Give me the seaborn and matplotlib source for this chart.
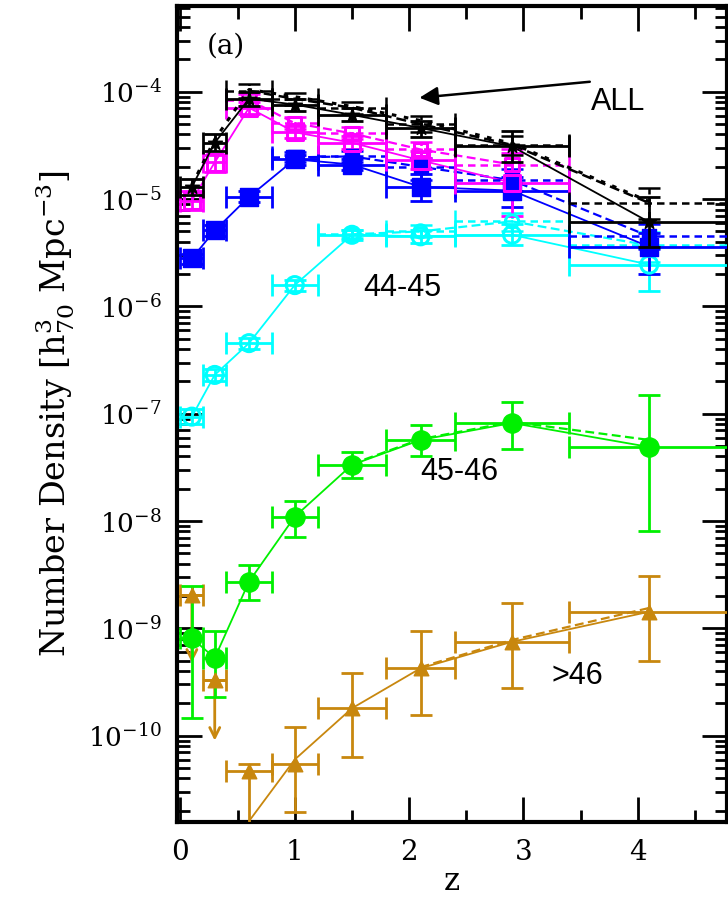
import numpy as np
import pandas as pd
import matplotlib
matplotlib.use("Agg")
import matplotlib.pyplot as plt
import seaborn as sns
from matplotlib.ticker import LogLocator, NullFormatter, MultipleLocator, FixedLocator

nan = np.nan
# ---------------- data ----------------
z_mid = [0.1, 0.3, 0.6, 1.0, 1.5, 2.1, 2.9, 4.1]
z_lo = [0.0, 0.2, 0.4, 0.8, 1.2, 1.8, 2.4, 3.4]
z_hi = [0.2, 0.4, 0.8, 1.2, 1.8, 2.4, 3.4, 4.8]
y_ticks = [1e-10, 1e-9, 1e-8, 1e-7, 1e-6, 1e-5, 1e-4]

# ALL (black)
all_val = [1.30e-5, 3.35e-5, 8.6e-5, 7.6e-5, 6.1e-5, 4.6e-5, 3.1e-5, 6.1e-6]
all_lo = [1.10e-5, 2.8e-5, 7.4e-5, 6.6e-5, 5.3e-5, 3.8e-5, 2.2e-5, 3.6e-6]
all_hi = [1.55e-5, 4.0e-5, 1.0e-4, 8.6e-5, 7.0e-5, 5.4e-5, 4.3e-5, 1.05e-5]
all_d = [nan, nan, 1.02e-4, 8.6e-5, 7.1e-5, 5.0e-5, 3.2e-5, 9.2e-6]
all_d_lo = [nan, nan, 8.8e-5, 7.6e-5, 6.2e-5, 4.2e-5, 2.6e-5, 6.5e-6]
all_d_hi = [nan, nan, 1.19e-4, 9.8e-5, 8.0e-5, 5.9e-5, 3.9e-5, 1.27e-5]
all_model = [1.35e-5, 3.6e-5, 1.05e-4, 9.0e-5, 7.3e-5, 5.4e-5, 3.3e-5, 9.5e-6]

# 43-44 (magenta)
mag_val = [9.7e-6, 2.2e-5, 7.1e-5, 4.2e-5, 3.35e-5, 2.3e-5, 1.42e-5, nan]
mag_lo = [7.9e-6, 1.8e-5, 6.2e-5, 3.7e-5, 2.9e-5, 1.9e-5, 6.9e-6, nan]
mag_hi = [1.2e-5, 2.6e-5, 8.0e-5, 4.8e-5, 3.9e-5, 2.8e-5, 2.7e-5, nan]
mag_d = [nan, nan, 8.4e-5, 5.1e-5, 4.1e-5, 2.9e-5, 2.1e-5, nan]
mag_d_lo = [nan, nan, 7.4e-5, 4.5e-5, 3.6e-5, 2.4e-5, 1.4e-5, nan]
mag_d_hi = [nan, nan, 9.5e-5, 5.8e-5, 4.7e-5, 3.4e-5, 2.9e-5, nan]

# 42-43 (blue)
blu_val = [2.8e-6, 5.1e-6, 1.05e-5, 2.35e-5, 2.1e-5, 1.3e-5, 1.2e-5, 3.6e-6]
blu_lo = [2.5e-6, 4.5e-6, 9.3e-6, 2.1e-5, 1.85e-5, 9.5e-6, 8.5e-6, 2.0e-6]
blu_hi = [3.1e-6, 5.7e-6, 1.18e-5, 2.6e-5, 2.35e-5, 1.7e-5, 1.6e-5, 4.8e-6]
blu_d = [nan, nan, nan, 2.45e-5, 2.5e-5, 2.0e-5, 1.5e-5, 4.5e-6]
blu_d_lo = [nan, nan, nan, 2.2e-5, 2.2e-5, 1.5e-5, 1.2e-5, 3.4e-6]
blu_d_hi = [nan, nan, nan, 2.75e-5, 2.8e-5, 2.4e-5, 1.9e-5, 5.8e-6]

# 44-45 (cyan)
cya_val = [9.4e-8, 2.3e-7, 4.55e-7, 1.58e-6, 4.65e-6, 4.5e-6, 4.65e-6, 2.45e-6]
cya_lo = [8.0e-8, 2.0e-7, 4.0e-7, 1.4e-6, 4.2e-6, 3.9e-6, 3.7e-6, 1.38e-6]
cya_hi = [1.1e-7, 2.6e-7, 5.1e-7, 1.75e-6, 5.1e-6, 5.2e-6, 5.8e-6, 3.5e-6]
cya_d = [nan, nan, nan, nan, 4.7e-6, 5.0e-6, 6.2e-6, 3.7e-6]
cya_d_lo = [nan, nan, nan, nan, 4.3e-6, 4.4e-6, 5.0e-6, 2.6e-6]
cya_d_hi = [nan, nan, nan, nan, 5.2e-6, 5.7e-6, 7.4e-6, 4.9e-6]

# 45-46 (green)
grn_val = [8.1e-10, 5.3e-10, 2.73e-9, 1.1e-8, 3.34e-8, 5.7e-8, 8.2e-8, 4.9e-8]
grn_lo = [1.46e-10, 2.3e-10, 1.85e-9, 7.1e-9, 2.5e-8, 4.0e-8, 4.7e-8, 8.1e-9]
grn_hi = [2.5e-9, 9.5e-10, 3.9e-9, 1.55e-8, 4.4e-8, 7.8e-8, 1.3e-7, 1.5e-7]
grn_d = [nan, nan, nan, nan, 3.4e-8, 5.8e-8, 8.4e-8, 5.7e-8]

# >46 (orange)
org_val = [2.05e-9, 3.3e-10, 4.7e-11, 5.5e-11, 1.8e-10, 4.25e-10, 7.5e-10, 1.43e-9]
org_lo = [2.05e-9, 3.3e-10, 1e-12, 1.94e-11, 6.3e-11, 1.55e-10, 2.8e-10, 5.0e-10]
org_hi = [2.05e-9, 3.3e-10, 5.5e-11, 1.2e-10, 3.8e-10, 9.5e-10, 1.72e-9, 3.1e-9]
org_limit_tip = [4.8e-10, 9.0e-11, nan, nan, nan, nan, nan, nan]
org_line = [nan, nan, 1.6e-11, 6.0e-11, 1.8e-10, 4.25e-10, 7.5e-10, 1.43e-9]
org_d = [nan, nan, nan, nan, nan, 4.35e-10, 7.8e-10, 1.55e-9]

labels_txt = ["ALL", "44-45", "45-46", ">46"]
# ----------------------------------------

C_BLK = "black"
C_MAG = "#ff00ff"
C_BLU = "#0000ff"
C_CYA = "#00ffff"
C_GRN = "#00f000"
C_ORG = "#c8870e"

sns.set_theme(style="ticks")
plt.rcParams["font.family"] = ["DejaVu Serif"]
plt.rcParams["mathtext.fontset"] = "dejavuserif"
for k in ["text.color", "axes.labelcolor", "xtick.color", "ytick.color",
          "axes.edgecolor"]:
    plt.rcParams[k] = "black"

fig = plt.figure(figsize=(7.28, 9.01), dpi=100)
ax = fig.add_axes([177 / 728, 1 - 822 / 901, 550 / 728, 816 / 901])

zm = np.array(z_mid)
zl = zm - np.array(z_lo)
zh = np.array(z_hi) - zm


def errset(val, lo, hi, color, dashed=False, lw=2.0, cap=8, z=3):
    v = np.array(val, float)
    l = np.array(lo, float)
    h = np.array(hi, float)
    ok = ~np.isnan(v)
    cont = ax.errorbar(zm[ok], v[ok], xerr=[zl[ok], zh[ok]],
                       yerr=[v[ok] - l[ok], h[ok] - v[ok]], fmt="none",
                       ecolor=color, elinewidth=lw, capsize=cap, capthick=lw,
                       zorder=z)
    if dashed:
        for lc in cont[2]:
            lc.set_linestyle((0, (3, 2)))


def line(val, color, ls="-", lw=1.2, z=2):
    df = pd.DataFrame({"z": zm, "n": np.array(val, float)}).dropna()
    sns.lineplot(data=df, x="z", y="n", color=color, linestyle=ls, lw=lw,
                 sort=False, ax=ax, zorder=z, legend=False)


def marks(val, color, marker, size, filled=True, z=5):
    df = pd.DataFrame({"z": zm, "n": np.array(val, float)}).dropna()
    if filled:
        sns.scatterplot(data=df, x="z", y="n", marker=marker, s=size,
                        color=color, edgecolor=color, linewidth=1, ax=ax,
                        zorder=z, legend=False)
    else:
        sns.scatterplot(data=df, x="z", y="n", marker=marker, s=size,
                        facecolor="none", edgecolor=color, linewidth=2.2,
                        ax=ax, zorder=z, legend=False)


# orange (>46)
line(org_line, C_ORG, lw=1.3)
line(org_d, C_ORG, ls=(0, (4, 2)), lw=1.6)
errset(org_val, org_lo, org_hi, C_ORG)
for zz, vv, tip in zip(z_mid, org_val, org_limit_tip):
    if not np.isnan(tip):
        ax.annotate("", xy=(zz, tip), xytext=(zz, vv),
                    arrowprops=dict(arrowstyle="->", color=C_ORG, lw=2,
                                    mutation_scale=18, shrinkA=0, shrinkB=0),
                    zorder=3)
marks(org_val, C_ORG, "^", 110)

# green (45-46)
line(grn_val, C_GRN, lw=1.3)
line(grn_d, C_GRN, ls=(0, (4, 2)), lw=1.6)
errset(grn_val, grn_lo, grn_hi, C_GRN)
marks(grn_val, C_GRN, "o", 190)

# cyan (44-45)
line(cya_val, C_CYA, lw=1.3)
line(cya_d, C_CYA, ls=(0, (4, 2)), lw=1.6)
errset(cya_d, cya_d_lo, cya_d_hi, C_CYA, dashed=True, lw=1.8)
errset(cya_val, cya_lo, cya_hi, C_CYA)
marks(cya_val, C_CYA, "o", 150, filled=False)
marks(cya_d, C_CYA, "o", 90, filled=False)

# blue (42-43)
line(blu_val, C_BLU, lw=1.3)
line(blu_d, C_BLU, ls=(0, (4, 2)), lw=1.6)
errset(blu_d, blu_d_lo, blu_d_hi, C_BLU, dashed=True, lw=1.8)
errset(blu_val, blu_lo, blu_hi, C_BLU)
marks(blu_val, C_BLU, "s", 170)
marks(blu_d, C_BLU, "s", 110)

# magenta (43-44)
line(mag_val, C_MAG, lw=1.3)
line(mag_d, C_MAG, ls=(0, (4, 2)), lw=1.6)
errset(mag_d, mag_d_lo, mag_d_hi, C_MAG, dashed=True, lw=1.8)
errset(mag_val, mag_lo, mag_hi, C_MAG)
marks(mag_val, C_MAG, "s", 140, filled=False)
marks(mag_d, C_MAG, "s", 90, filled=False)

# black (ALL)
line(all_val, C_BLK, lw=1.3, z=6)
line(all_d, C_BLK, ls=(0, (4, 2)), lw=1.8, z=6)
line(all_model, C_BLK, ls=(0, (1.5, 2.5)), lw=2.2, z=6)
errset(all_d, all_d_lo, all_d_hi, C_BLK, dashed=True, lw=1.8, z=6)
errset(all_val, all_lo, all_hi, C_BLK, z=6)
marks(all_val, C_BLK, "*", 110, z=7)

# ---------------- axes styling ----------------
ax.set_yscale("log")
ax.set_xlim(-0.03, 4.78)
ax.set_ylim(1.57e-11, 6.3e-4)

ax.xaxis.set_major_locator(MultipleLocator(1))
ax.xaxis.set_minor_locator(MultipleLocator(0.5))
ax.yaxis.set_major_locator(FixedLocator(y_ticks))
ax.yaxis.set_minor_locator(LogLocator(base=10, subs=np.arange(2, 10), numticks=200))
ax.yaxis.set_minor_formatter(NullFormatter())

ax.tick_params(which="both", direction="in", top=True, right=True,
               color="black", labelcolor="black")
ax.tick_params(which="major", length=18, width=2)
ax.tick_params(which="minor", length=9, width=2)
ax.tick_params(axis="y", which="major", labelsize=19, pad=11)
ax.tick_params(axis="x", which="major", labelsize=20, pad=12)
for s in ax.spines.values():
    s.set_linewidth(3)
    s.set_color("black")

ax.set_xlabel("z", fontsize=22, labelpad=0)
ax.set_ylabel(r"Number Density [h$^{3}_{70}$ Mpc$^{-3}$]", fontsize=24,
              labelpad=8)

# annotations
ax.text(0.40, 2.68e-4, "(a)", fontsize=20, ha="center", va="center")
sans = ["Liberation Sans", "DejaVu Sans"]
ax.text(3.83, 8.1e-5, labels_txt[0], fontsize=22, ha="center", va="center",
        family=sans)
ax.text(1.94, 1.49e-6, labels_txt[1], fontsize=22, ha="center", va="center",
        family=sans)
ax.text(2.44, 2.88e-8, labels_txt[2], fontsize=22, ha="center", va="center",
        family=sans)
ax.text(3.47, 3.6e-10, labels_txt[3], fontsize=22, ha="center", va="center",
        family=sans)
ax.annotate("", xy=(2.09, 8.8e-5), xytext=(3.58, 1.24e-4),
            arrowprops=dict(arrowstyle="-|>", color="black", lw=1.8,
                            mutation_scale=28, shrinkA=0, shrinkB=0))

fig.savefig("out.png", dpi=100)
